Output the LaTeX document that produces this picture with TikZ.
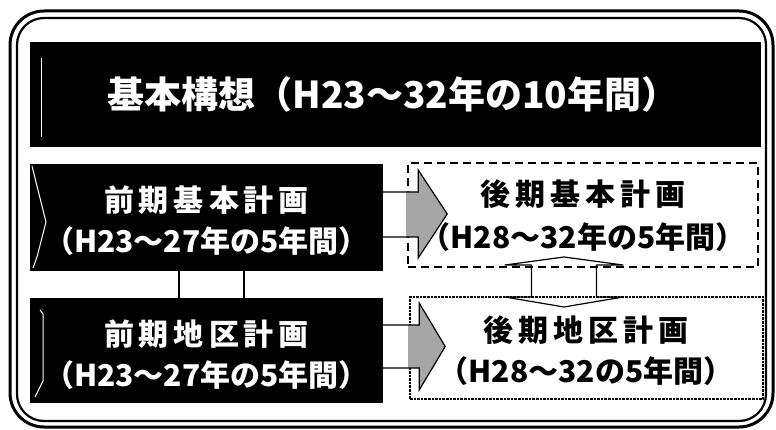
\documentclass[tikz,border=0pt]{standalone}
\usepackage{fontspec}
\setmainfont{Noto Sans CJK JP}
\usetikzlibrary{calc}
\newcommand\ksp{\hspace{5pt}}
\begin{document}
\begin{tikzpicture}[x=1pt,y=-1pt,
  blk/.style={fill=black, draw=none, inner sep=0pt},
  dashbox/.style={draw=black, line width=2pt, dash pattern=on 8pt off 5pt, inner sep=0pt},
  dotbox/.style={draw=black, line width=1.8pt, dash pattern=on 2.6pt off 1pt, inner sep=0pt},
  wt/.style={text=white, anchor=base, inner sep=0pt, font=\fontsize{30}{34}\selectfont\bfseries},
  bt/.style={text=black, anchor=base, inner sep=0pt, font=\fontsize{30}{34}\selectfont\bfseries},
  ghost/.style={draw=white, line width=1pt},
  thinline/.style={draw=black, line width=1.2pt},
  arrfill/.style={fill=black!35},
  frameouter/.style={draw=black, line width=3pt, rounded corners=34pt},
  frameinner/.style={draw=black, line width=2.2pt, rounded corners=27pt}
]
\useasboundingbox (0,0) rectangle (776,430);
\fill[white] (0,0) rectangle (776,430);

% outer double frame
\draw[frameouter] (10,11) rectangle (773,427);
\draw[frameinner] (17,18) rectangle (766,421);

% boxes
\node[blk, minimum width=731pt, minimum height=105pt] (T) at (395.5,94.5) {};
\node[blk, minimum width=353pt, minimum height=107pt] (L1) at (206.5,217.5) {};
\node[blk, minimum width=353pt, minimum height=105pt] (L2) at (206.5,350.5) {};
\node[dashbox, minimum width=350pt, minimum height=104pt] (R1) at (583,215) {};
\node[dotbox, minimum width=353pt, minimum height=102pt] (R2) at (586.5,348) {};

% faint white marks inside the black boxes
\draw[ghost] (41,58) -- (41,137);
\draw[ghost] (32,166) -- (46,222) -- (37,257) -- (33,268);
\draw[ghost] (40,310) -- (43,314) -- (43,381) -- (35,397);

% texts
\node[wt, font=\fontsize{37}{40}\selectfont\bfseries] (Tt) at (393,109) {基本構想（H23～32年の10年間）};
\node[wt] (L1a) at (206.5,211.4) {前\ksp{}期\ksp{}基\ksp{}本\ksp{}計\ksp{}画};
\node[wt] (L1b) at (206.5,252.5) {（H23～27年の5年間）};
\node[wt] (L2a) at (206.5,345) {前\ksp{}期\ksp{}地\ksp{}区\ksp{}計\ksp{}画};
\node[wt] (L2b) at (206.5,386) {（H23～27年の5年間）};
\node[bt] (R1a) at (583,205.5) {後\ksp{}期\ksp{}基\ksp{}本\ksp{}計\ksp{}画};
\node[bt] (R1b) at (583,249) {（H28～32年の5年間）};
\node[bt] (R2a) at (586,341.5) {後\ksp{}期\ksp{}地\ksp{}区\ksp{}計\ksp{}画};
\node[bt] (R2b) at (586,382.5) {（H28～32の5年間）};

% link between the two left boxes
\coordinate (cl1) at (179,0);
\coordinate (cl2) at (244,0);
\draw[thinline] (cl1 |- L1.south) -- (cl1 |- L2.north);
\draw[thinline] (cl2 |- L1.south) -- (cl2 |- L2.north);

% up/down arrow between the two right boxes
\coordinate (DA) at (564,282);
\draw[thinline, line join=round, shift={(DA)}]
  (0,-25) -- (59,-17) -- (32.5,-17) -- (32.5,15) -- (59,15) -- (0,25)
  -- (-59,15) -- (-32.5,15) -- (-32.5,-17) -- (-59,-17) -- cycle;

% block arrows from left boxes to right boxes
\coordinate (y1) at (0,192);
\coordinate (y2) at (0,325);
\fill[arrfill] ($(L1.east |- y1)+(23,0)$) -- ++(12,0) -- ++(0,-22) -- ++(29,44)
  -- ++(-29,44) -- ++(0,-21) -- ++(-12,0) -- cycle;
\draw[thinline] (L1.east |- y1) -- ++(35,0) -- ++(0,-22) -- ++(29,44)
  -- ++(-29,44) -- ++(0,-21) -- ++(-35,0);
\fill[arrfill] ($(L2.east |- y2)+(25,0)$) -- ++(11,0) -- ++(0,-22) -- ++(26,43.5)
  -- ++(-26,43.5) -- ++(0,-22) -- ++(-11,0) -- cycle;
\draw[thinline] (L2.east |- y2) -- ++(36,0) -- ++(0,-22) -- ++(26,43.5)
  -- ++(-26,43.5) -- ++(0,-22) -- ++(-36,0);
\end{tikzpicture}
\end{document}
